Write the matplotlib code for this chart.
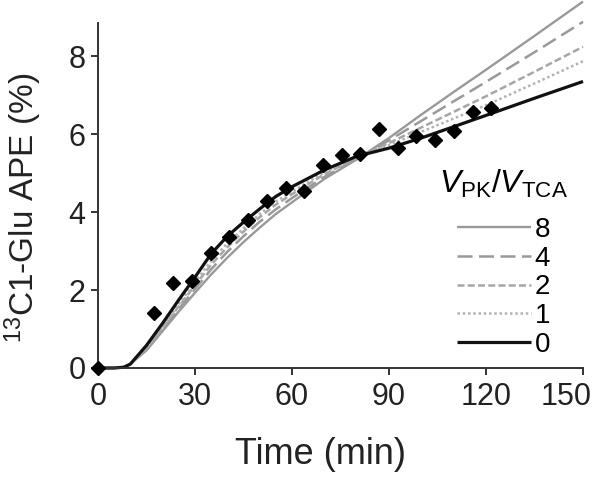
import matplotlib
matplotlib.use("Agg")
import matplotlib.pyplot as plt
from matplotlib.transforms import ScaledTranslation

plt.rcParams['font.family'] = ['Liberation Sans', 'DejaVu Sans']
plt.rcParams['mathtext.fontset'] = 'custom'
plt.rcParams['mathtext.rm'] = 'Liberation Sans'
plt.rcParams['mathtext.it'] = 'Liberation Sans:italic'

# measured data (time in min, APE %)
obs_t = [0, 17.3, 23.2, 29.1, 35.0, 40.5, 46.4, 52.3, 58.1, 63.7, 69.6, 75.5,
         81.0, 86.9, 92.8, 98.4, 104.2, 110.1, 116.0, 121.6]
obs_y = [0, 1.41, 2.18, 2.23, 2.95, 3.36, 3.79, 4.28, 4.61, 4.54, 5.21, 5.46,
         5.49, 6.14, 5.65, 5.94, 5.86, 6.07, 6.56, 6.68]

# model curves
model_t = [0, 5, 8, 10, 15, 20, 25, 30, 35, 40, 45, 50, 55, 60, 70, 80, 90, 100, 110, 120, 135, 150]
curve_8 = [0, 0, 0.02, 0.1, 0.45, 0.95, 1.45, 1.93, 2.4, 2.83, 3.23, 3.6, 3.95, 4.25, 4.85, 5.35, 5.9, 6.5, 7.08, 7.65, 8.52, 9.4]
curve_4 = [0, 0, 0.02, 0.1, 0.48, 1.0, 1.52, 2.03, 2.53, 2.98, 3.38, 3.75, 4.07, 4.36, 4.9, 5.37, 5.84, 6.34, 6.84, 7.34, 8.1, 8.88]
curve_2 = [0, 0, 0.02, 0.1, 0.5, 1.03, 1.58, 2.12, 2.65, 3.1, 3.5, 3.87, 4.19, 4.46, 4.97, 5.4, 5.77, 6.17, 6.57, 6.97, 7.6, 8.24]
curve_1 = [0, 0, 0.02, 0.1, 0.52, 1.06, 1.64, 2.2, 2.75, 3.2, 3.58, 3.95, 4.27, 4.53, 5.02, 5.42, 5.72, 6.06, 6.4, 6.74, 7.3, 7.87]
curve_0 = [0, 0, 0.02, 0.1, 0.58, 1.15, 1.75, 2.33, 2.93, 3.38, 3.74, 4.08, 4.4, 4.65, 5.08, 5.43, 5.64, 5.9, 6.19, 6.48, 6.92, 7.35]

ratio_labels = ['8', '4', '2', '1', '0']
x_ticks = [0, 30, 60, 90, 120, 150]
y_ticks = [0, 2, 4, 6, 8]

fig = plt.figure(figsize=(6.0, 4.83), dpi=100)
ax = fig.add_axes([0.1633, 0.2381, 0.8084, 0.7143])

styles = [
    dict(color='#999999', lw=1.7, ls='-'),
    dict(color='#999999', lw=1.8, ls=(0, (6, 2.6))),
    dict(color='#a6a6a6', lw=1.8, ls=(0, (2.8, 1.3))),
    dict(color='#b2b2b2', lw=1.8, ls=(0, (1, 1.1))),
    dict(color='#111111', lw=2.3, ls='-'),
]
curves = [curve_8, curve_4, curve_2, curve_1, curve_0]
for c, st, lab in zip(curves, styles, ratio_labels):
    ax.plot(model_t, c, label=lab, clip_on=False, solid_capstyle='butt', **st)

ax.plot(obs_t, obs_y, ls='none', marker='D', ms=7.5, color='black', clip_on=False, zorder=5)

ax.set_xlim(0, 150)
ax.set_ylim(0, 8.85)
ax.set_xticks(x_ticks)
ax.set_yticks(y_ticks)
for s in ['top', 'right']:
    ax.spines[s].set_visible(False)
for s in ['left', 'bottom']:
    ax.spines[s].set_linewidth(1.4)
    ax.spines[s].set_color('#333333')
ax.tick_params(axis='both', labelsize=22, length=5, width=1.4, color='#333333', colors='#222222')
ax.tick_params(axis='x', pad=5)
ax.tick_params(axis='y', pad=4)

# keep last x tick label inside the picture, as in the reference
lbls = ax.get_xticklabels()
lbls[-1].set_transform(lbls[-1].get_transform() + ScaledTranslation(-0.17, 0, fig.dpi_scale_trans))

ax.set_xlabel('Time (min)', fontsize=26, color='#222222')
ax.set_ylabel(r'$^{13}$C1-Glu APE (%)', fontsize=24, color='#222222')
ax.xaxis.set_label_coords(0.458, -0.2)
ax.yaxis.set_label_coords(-0.112, 0.464)

leg = ax.legend(loc='upper left', bbox_to_anchor=(0.675, 0.62), frameon=False,
                fontsize=20, handlelength=2.66, handletextpad=0.12, labelspacing=0.1,
                borderpad=0, title=r'$V_{\mathrm{PK}}/V_{\mathrm{TCA}}$', title_fontsize=23)
leg._legend_box.sep = 12

fig.savefig('out.png', dpi=100)
